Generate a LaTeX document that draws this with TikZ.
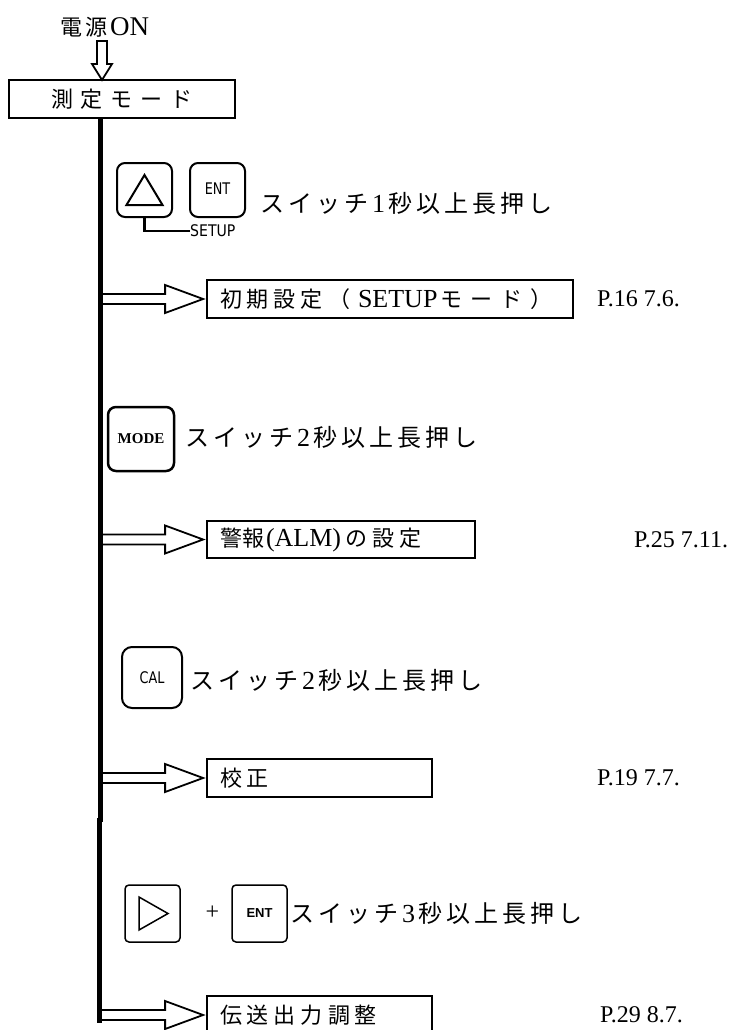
\documentclass[tikz,border=0pt]{standalone}
\usepackage{fontspec}
\usepackage{graphicx}
\setmainfont{Liberation Serif}
\newfontfamily\jp{Noto Sans CJK JP}
\newfontfamily\btnf{DejaVu Sans}
\newfontfamily\btnb{Liberation Sans}
\usetikzlibrary{calc}
\makeatletter
\newcommand\sj[2]{{\jp\def\sj@k{#1}\sj@loop#2\relax}}
\def\sj@loop#1{\ifx\relax#1\else#1\kern\sj@k\expandafter\sj@loop\fi}
\makeatother
\newcommand\fs[1]{\fontsize{#1}{#1}\selectfont}
\newcommand\lat[1]{{\fs{26}#1}}
\tikzset{
  modebox/.style={draw, line width=1.8, minimum height=38, inner sep=0},
  leftbox/.style={modebox, text width=#1, align=left, inner xsep=13},
  btnbox/.style={draw, line width=2, rounded corners=8, inner sep=0},
  sqbox/.style={draw, line width=1.5, rounded corners=4, inner sep=0, minimum width=55, minimum height=57},
  hollow/.style={draw, line width=1.8, fill=white, line join=miter},
  trunk/.style={line width=5},
  lbl/.style={anchor=west, inner sep=0},
  ref/.style={anchor=west, inner sep=0, font=\fs{24}},
  rowtxt/.style={anchor=west, inner sep=0, font=\fs{24}},
  boxtxt/.style={font=\fs{22}},
}
\newcommand\harrow[1]{%
  \draw[hollow] ($(#1.west)+(-3,0)$) -- ++(-38,-14) -- ++(0,9) -- ++(-66,0)
    -- ++(0,10) -- ++(66,0) -- ++(0,9) -- cycle;}
\newcommand\hold[1]{\sj{4pt}{スイッチ}\lat{#1}\kern3pt\sj{4pt}{秒以上長押し}}
\begin{document}
\begin{tikzpicture}[x=1pt,y=-1pt]
\fill[white] (0,0) rectangle (736,1030);
\useasboundingbox (0,0) rectangle (736,1030);

% top
\node[lbl] (pwr) at (60,27) {\fs{22}\sj{3pt}{電源}\fs{27}ON};
\node[modebox, minimum width=226] (mode) at (122,99) {\fs{22}\sj{8pt}{測定モード}\kern-8pt};
\coordinate (tipA) at (102,80);
\draw[hollow] (tipA) -- ++(-10,-16) -- ++(5,0) -- ++(0,-23) -- ++(10,0) -- ++(0,23) -- ++(5,0) -- cycle;

% group 1
\node[btnbox, minimum width=55, minimum height=54] (up) at (144.5,190) {};
\draw[line width=2, line join=miter] ($(up)+(-18,15)$) -- ($(up)+(0,-15)$) -- ($(up)+(18,15)$) -- cycle;
\node[btnbox, minimum width=55, minimum height=54] (ent1) at (217.5,190) {\raisebox{3pt}{\btnf\fs{16}\scalebox{0.8}[1]{ENT}}};
\node[lbl] (setup) at (190,231) {\btnf\fs{16}\scalebox{0.88}[1]{SETUP}};
\draw[line width=2.5] (up.south) |- (setup.west);
\node[rowtxt] (t1) at (260,203) {\hold{1}};
\node[leftbox=340, boxtxt] (b1) at (390,299) {\sj{5pt}{初期設定（}\kern3pt\lat{SETUP}\kern3pt\sj{8pt}{モード）}};
\node[ref] (r1) at (597,299) {P.16 7.6.};

% group 2
\node[btnbox, line width=2.5, minimum width=66, minimum height=64] (modeb) at (141,439) {\fs{15}\bfseries MODE};
\node[rowtxt] (t2) at (185,437) {\hold{2}};
\node[leftbox=242, minimum height=37, boxtxt] (b2) at (341,539.5) {\sj{1pt}{警報}\lat{(ALM)}\kern4pt\sj{5pt}{の設定}};
\node[ref] (r2) at (634,540) {P.25 7.11.};

% group 3
\node[btnbox, rounded corners=10, minimum width=60, minimum height=61] (cal) at (152,677.5) {\btnf\fs{16}\scalebox{0.8}[1]{CAL}};
\node[rowtxt] (t3) at (190,680) {\hold{2}};
\node[leftbox=199, boxtxt] (b3) at (319.5,778) {\sj{5pt}{校正}};
\node[ref] (r3) at (597,778) {P.19 7.7.};

% group 4
\node[sqbox] (right) at (152.5,913.5) {};
\draw[line width=1.5, line join=miter] ($(right)+(-13.5,-16.5)$) -- ($(right)+(15.5,0)$) -- ($(right)+(-13.5,16.5)$) -- cycle;
\node[inner sep=0] (plus) at (212.5,913) {\fs{24}+};
\node[sqbox] (ent2) at (259.5,913.5) {\btnb\fs{13}\bfseries ENT};
\node[rowtxt] (t4) at (290,913) {\hold{3}};
\node[leftbox=199, boxtxt] (b4) at (319.5,1015) {\sj{5pt}{伝送出力調整}};
\node[ref] (r4) at (600,1015) {P.29 8.7.};

% connectors
\harrow{b1}
\harrow{b2}
\harrow{b3}
\harrow{b4}
\coordinate (j1) at (100.5,822);
\coordinate (j2) at (99.5,818);
\coordinate (j3) at (99.5,1023);
\draw[trunk] (mode.south -| j1) -- (j1);
\draw[trunk] (j2) -- (j3);
\end{tikzpicture}
\end{document}
